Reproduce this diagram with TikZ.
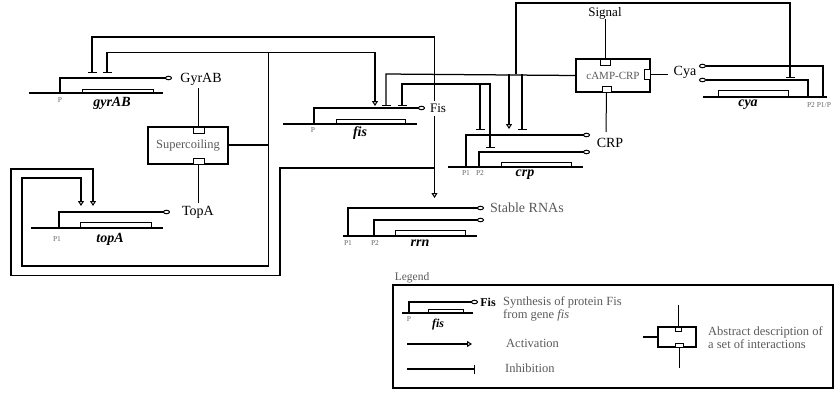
\documentclass[tikz,border=0pt]{standalone}
\usepackage{fontspec}
\setmainfont{Liberation Serif}
\usetikzlibrary{arrows.meta}
\begin{document}
\begin{tikzpicture}[x=1pt,y=-1pt,
  wire/.style={line width=1.25pt},
  act/.style={wire,-{Triangle[open,width=6pt,length=5pt,line width=1pt]}},
  inh/.style={wire,-{Bar[width=9pt,line width=1.25pt]}},
  prom/.style={line width=1.1pt,-{Circle[open,length=7pt,width=4.5pt,line width=1pt]}},
  dna/.style={line width=1.6pt},
  genebox/.style={draw,line width=1pt},
  plab/.style={font=\fontsize{7.5}{8}\selectfont,text=black!60,inner sep=0pt},
  glab/.style={font=\fontsize{14}{16}\selectfont\bfseries\itshape,inner sep=0pt},
  prot/.style={font=\fontsize{14}{16}\selectfont,inner sep=0pt},
  graytxt/.style={font=\fontsize{12.5}{14}\selectfont,text=black!65,inner sep=0pt},
  absbox/.style={draw,line width=1.25pt,inner sep=0pt},
  port/.style={draw,line width=1pt,fill=white,inner sep=0pt},
  thin/.style={line width=1pt}
]
\useasboundingbox (0,0) rectangle (834,392);

% ---------------- gyrAB ----------------
\draw[dna] (29,93) -- (163,93);
\draw[genebox] (82,89) rectangle (153,93);
\coordinate (gyrP) at (60,93);
\draw[prom] (gyrP) -- (60,78) -- (172,78);
\node[plab] (gyrPl) at (60,100) {P};
\node[glab] (gyrG) at (112,103) {gyrAB};
\node[prot] (GyrAB) at (201,79) {GyrAB};

% ---------------- Supercoiling ----------------
\node[absbox,minimum width=80pt,minimum height=37pt] (sc) at (188,145.5) {};
\node[graytxt] (sctxt) at (188,145.5) {Supercoiling};
\node[port,minimum width=11pt,minimum height=6pt] (scT) at (198.5,130) {};
\node[port,minimum width=11pt,minimum height=6pt] (scB) at (198.5,161) {};
\draw[thin] (198.5,88) -- (scT.north);
\node[prot] (TopA) at (198,212) {TopA};
\draw[thin] (scB.south) -- (198.5,203);

% ---------------- topA ----------------
\draw[dna] (31,228) -- (163,228);
\draw[genebox] (80,222) rectangle (151,228);
\draw[prom] (59,228) -- (59,212) -- (170,212);
\node[plab] (topPl) at (57,239) {P1};
\node[glab] (topG) at (110,239) {topA};

% ---------------- fis ----------------
\draw[dna] (283,124) -- (417,124);
\draw[genebox] (336,119) rectangle (405,124);
\draw[prom] (314,124) -- (314,108) -- (425,108);
\node[plab] (fisPl) at (313,130) {P};
\node[glab] (fisG) at (360,133) {fis};
\node[prot,font=\fontsize{13}{15}\selectfont] (Fis) at (438,108) {Fis};

% ---------------- crp ----------------
\draw[dna] (448,167) -- (583,167);
\draw[genebox] (501,162) rectangle (571,167);
\draw[prom] (466,167) -- (466,135) -- (590,135);
\draw[prom] (479,167) -- (479,152) -- (590,152);
\node[plab] (crpP1) at (466,173) {P1};
\node[plab] (crpP2) at (480,173) {P2};
\node[glab] (crpG) at (525,175) {crp};
\node[prot] (CRP) at (610,143) {CRP};

% ---------------- cAMP-CRP ----------------
\node[absbox,minimum width=74pt,minimum height=33pt] (camp) at (613,75.5) {};
\node[graytxt,font=\fontsize{11}{13}\selectfont] (camptxt) at (613,75.5) {cAMP-CRP};
\node[port,minimum width=10pt,minimum height=6pt] (campT) at (605,62) {};
\node[port,minimum width=9pt,minimum height=6pt] (campB) at (606.5,89) {};
\node[port,minimum width=6pt,minimum height=10pt] (campR) at (647,74) {};
\node[prot,font=\fontsize{13}{15}\selectfont] (Signal) at (605,13) {Signal};
\draw[thin] (Signal.south) -- (campT.north);
\draw[thin] (campB.south) -- (606,132);
\node[prot] (Cya) at (685,72) {Cya};
\draw[thin] (campR.east) -- (668,74);

% ---------------- cya ----------------
\draw[dna] (703,97) -- (827,97);
\draw[genebox] (718,90) rectangle (788,97);
\draw[prom] (823,97) -- (823,66) -- (699,66);
\draw[prom] (808,97) -- (808,80) -- (699,80);
\node[glab] (cyaG) at (748,105) {cya};
\node[plab] (cyaP) at (819,105) {P2 P1/P};

% ---------------- rrn ----------------
\draw[dna] (343,236) -- (477,236);
\draw[genebox] (395,230) rectangle (465,236);
\draw[prom] (348,236) -- (348,208) -- (484,208);
\draw[prom] (374,236) -- (374,220) -- (484,220);
\node[plab] (rrnP1) at (348,243) {P1};
\node[plab] (rrnP2) at (375,243) {P2};
\node[glab] (rrnG) at (420,243) {rrn};
\node[graytxt,font=\fontsize{14}{16}\selectfont,anchor=west] (RNA) at (490,208) {Stable RNAs};

% ---------------- regulation wires ----------------
% Fis
\coordinate (fisUp) at (434.5,101);
\coordinate (fisDn) at (434.5,116);
\coordinate (jOut) at (434.5,168);
\coordinate (jAuto) at (434.5,84);
\draw[inh] (fisUp) -- (434.5,37) -- (92,37) -- (92,73);
\draw[act] (fisDn) -- (434.5,198);
\draw[act] (jOut) -- (280,168) -- (280,275.5) -- (11,275.5) -- (11,169) -- (93,169) -- (93,206);
\draw[inh] (jAuto) -- (402,84) -- (402,106);
\draw[inh] (jAuto) -- (490,84) -- (490,148);
\draw[inh] (480,84) -- (480,130);
% Supercoiling
\coordinate (jSc) at (268.5,145);
\coordinate (jScTop) at (268.5,52.5);
\draw[wire] (sc.east |- jSc) -- (jSc);
\draw[inh] (jScTop) -- (107,52.5) -- (107,73);
\draw[act] (jScTop) -- (375,52.5) -- (375,106);
\draw[act] (jScTop) -- (268.5,266) -- (22,266) -- (22,178) -- (81,178) -- (81,206);
% cAMP-CRP
\coordinate (jC) at (516,74);
\draw[inh] (camp.west) -- (386,74) -- (386,106);
\draw[inh] (jC) -- (516,3) -- (790,3) -- (790,78);
\draw[act] (509,74) -- (509,129);
\draw[inh] (522,74) -- (522,130);

% ---------------- legend ----------------
\node[graytxt,font=\fontsize{11.5}{13}\selectfont] (LegT) at (412,278) {Legend};
\node[draw,line width=1.25pt,minimum width=440pt,minimum height=103pt,inner sep=0pt] (Leg) at (613,336.5) {};
\draw[dna] (402,313) -- (473,313);
\draw[genebox] (428,309) rectangle (463,313);
\draw[prom] (409,313) -- (409,302) -- (478,302);
\node[plab] (legP) at (409,319) {P};
\node[glab,font=\fontsize{12}{14}\selectfont\bfseries\itshape] (legfis) at (438,325) {fis};
\node[prot,font=\fontsize{12}{14}\selectfont\bfseries] (legFis) at (488,302) {Fis};
\node[graytxt,anchor=west] (legS1) at (503,302) {Synthesis of protein Fis};
\node[graytxt,anchor=west] (legS2) at (503,315) {from gene \textit{fis}};
\coordinate (aS) at (407,344);
\coordinate (aE) at (472,344);
\draw[act] (aS) -- (aE);
\node[graytxt,anchor=west] (legA) at (506,343) {Activation};
\coordinate (iS) at (407,369);
\coordinate (iE) at (475,369);
\draw[inh] (iS) -- (iE);
\node[graytxt,anchor=west] (legI) at (505,368) {Inhibition};
\node[absbox,minimum width=38pt,minimum height=20pt] (legBox) at (677,337) {};
\node[port,minimum width=6pt,minimum height=4pt] (legBT) at (678.5,329) {};
\node[port,minimum width=8pt,minimum height=4pt] (legBB) at (679.5,345) {};
\draw[wire] (678.5,305) -- (legBox.north -| legBT);
\draw[wire] (legBox.south -| legBB) -- (679.5,368);
\draw[wire] (643,337) -- (legBox.west);
\node[graytxt,anchor=west] (legAb1) at (708,332) {Abstract description of};
\node[graytxt,anchor=west] (legAb2) at (708,344) {a set of interactions};
\end{tikzpicture}
\end{document}
